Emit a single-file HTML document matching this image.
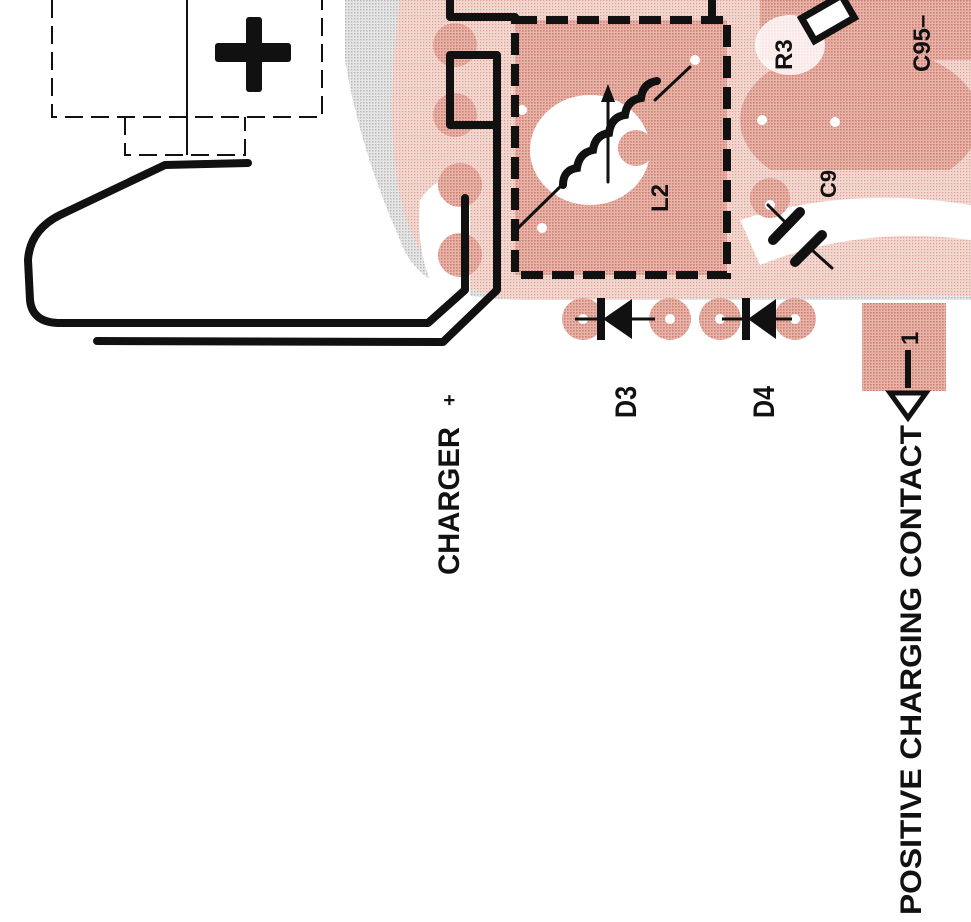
<!DOCTYPE html>
<html><head><meta charset="utf-8"><style>
html,body{margin:0;padding:0;background:#fff;}
svg{display:block}
text{font-family:"Liberation Sans",sans-serif;font-weight:bold;fill:#111}
</style></head><body>
<svg width="971" height="922" viewBox="0 0 971 922" xmlns="http://www.w3.org/2000/svg">
<defs>
<pattern id="gr" width="3" height="3" patternUnits="userSpaceOnUse"><rect width="3" height="3" fill="#e6e6e6"/><rect width="1.5" height="1.5" fill="#b8b8b8"/></pattern>
<pattern id="pk" width="3" height="3" patternUnits="userSpaceOnUse"><rect width="3" height="3" fill="#e8b4aa"/><rect width="1.6" height="1.6" fill="#cf7f72"/></pattern>
<pattern id="lp" width="3" height="3" patternUnits="userSpaceOnUse"><rect width="3" height="3" fill="#f3d8d2"/><rect width="1.3" height="1.3" fill="#e0a195"/></pattern>
</defs>
<path d="M345 0 L971 0 L971 300 L520 300 Q420 300 400 240 Q360 150 345 60 Z" fill="url(#gr)"/>
<path d="M400 0 L971 0 L971 295 L540 300 Q440 300 410 230 Q380 150 400 0 Z" fill="url(#lp)"/>
<rect x="515" y="20" width="212" height="255" fill="url(#pk)"/>
<ellipse cx="860" cy="120" rx="120" ry="75" fill="url(#pk)"/>
<rect x="730" y="170" width="241" height="110" fill="url(#lp)"/>
<rect x="760" y="0" width="211" height="60" fill="url(#pk)"/>
<ellipse cx="590" cy="150" rx="60" ry="55" fill="#fff"/>
<path d="M420 200 Q440 170 470 180 L470 300 L440 300 Q415 260 420 200Z" fill="#fff"/>
<ellipse cx="790" cy="45" rx="35" ry="30" fill="#fff" opacity="0.8"/>
<path d="M740 220 Q850 185 971 205 L971 240 Q860 225 760 265 Z" fill="#fff"/>
<g fill="url(#pk)">
<circle cx="455" cy="45" r="22"/><circle cx="455" cy="115" r="22"/><circle cx="460" cy="185" r="22"/><circle cx="460" cy="255" r="22"/>
<circle cx="695" cy="60" r="22"/><circle cx="542" cy="222" r="20"/><circle cx="636" cy="148" r="18"/>
<circle cx="770" cy="198" r="20"/>
<circle cx="583" cy="319" r="21"/><circle cx="670" cy="319" r="21"/><circle cx="720" cy="319" r="21"/><circle cx="795" cy="319" r="21"/>
</g>
<g fill="#fff"><circle cx="583" cy="319" r="5"/><circle cx="670" cy="319" r="5"/><circle cx="720" cy="319" r="5"/><circle cx="795" cy="319" r="5"/>
<circle cx="695" cy="60" r="5"/><circle cx="542" cy="228" r="5"/><circle cx="522" cy="110" r="5"/><circle cx="762" cy="120" r="5"/><circle cx="835" cy="122" r="5"/><circle cx="770" cy="205" r="5"/></g>
<rect x="862" y="303" width="84" height="88" fill="url(#pk)"/>
<g stroke="#111" stroke-width="2" fill="none" stroke-dasharray="18,8">
<path d="M52 0 V117 H322 V0"/>
<path d="M125 117 V155 H245 V117"/>
</g>
<line x1="187" y1="0" x2="187" y2="155" stroke="#111" stroke-width="2"/>
<rect x="246" y="17" width="16" height="75" rx="3" fill="#111"/>
<rect x="215" y="43" width="76" height="19" rx="3" fill="#111"/>
<g stroke="#111" stroke-width="8" fill="none" stroke-linecap="round" stroke-linejoin="round">
<path d="M248 163 L165 165 L60 215 Q30 230 28 260 L30 300 Q32 322 58 323 L428 323 L465 290 L465 198"/>
<path d="M97 341 L443 342 L497 290 L497 125 L450 125 L450 55 L497 55 L497 125"/>
<path d="M450 0 V17 H515"/>
<path d="M712 0 V20"/>
</g>
<rect x="515" y="20" width="212" height="255" stroke="#111" stroke-width="8" fill="none" stroke-dasharray="22,9"/>
<g stroke="#111" fill="none" stroke-linecap="round">
<line x1="518" y1="228" x2="565" y2="182" stroke-width="3"/>
<line x1="655" y1="100" x2="690" y2="67" stroke-width="3"/>
<path d="M563 185 q0 -15 14 -17 q2 -15 16 -18 q2 -15 16 -17 q2 -16 16 -18 q2 -15 16 -17 q2 -15 16 -17" stroke-width="8"/>
<line x1="608" y1="182" x2="608" y2="90" stroke-width="3"/>
</g>
<path d="M601 102 L608 84 L615 102 Z" fill="#111"/>
<g transform="rotate(-30 828 18)"><rect x="805" y="5" width="46" height="26" stroke="#111" stroke-width="7" fill="#fff"/></g>
<g stroke="#111" stroke-linecap="round">
<line x1="768" y1="205" x2="785" y2="222" stroke-width="3"/>
<line x1="812" y1="250" x2="832" y2="268" stroke-width="3"/>
<line x1="773" y1="240" x2="800" y2="212" stroke-width="10"/>
<line x1="795" y1="262" x2="822" y2="235" stroke-width="10"/>
</g>
<g stroke="#111" stroke-width="3"><line x1="575" y1="319" x2="655" y2="319"/><line x1="722" y1="319" x2="792" y2="319"/></g>
<path d="M603 319 L632 299 V339 Z M597 298 h8 v42 h-8z" fill="#111"/>
<path d="M748 319 L776 299 V339 Z M742 298 h8 v42 h-8z" fill="#111"/>
<line x1="908" y1="350" x2="908" y2="388" stroke="#111" stroke-width="6"/>
<path d="M890 393 L926 393 L908 418 Z" fill="#fff" stroke="#111" stroke-width="5"/>
<g font-size="30">
<text transform="translate(459,575) rotate(-90)" textLength="148" lengthAdjust="spacingAndGlyphs">CHARGER</text>
<text transform="translate(456,406) rotate(-90)" font-size="20">+</text>
<text transform="translate(636,418) rotate(-90)" textLength="32" lengthAdjust="spacingAndGlyphs">D3</text>
<text transform="translate(774,418) rotate(-90)" textLength="32" lengthAdjust="spacingAndGlyphs">D4</text>
<text transform="translate(921,915) rotate(-90)" textLength="490" lengthAdjust="spacingAndGlyphs">POSITIVE CHARGING CONTACT</text>
<text transform="translate(668,212) rotate(-90)" font-size="24">L2</text>
<text transform="translate(836,198) rotate(-90)" font-size="22">C9</text>
<text transform="translate(792,70) rotate(-90)" font-size="24">R3</text>
<text transform="translate(930,72) rotate(-90)" font-size="24">C95–</text>
<text transform="translate(918,345) rotate(-90)" font-size="24">1</text>
</g>
</svg>
</body></html>
